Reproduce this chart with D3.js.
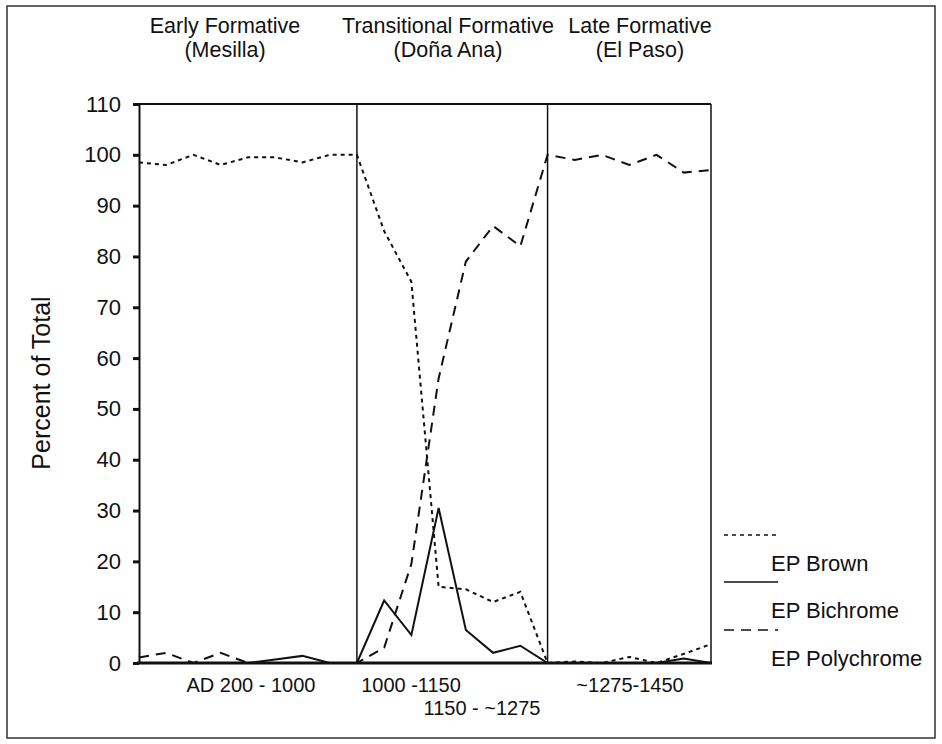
<!DOCTYPE html>
<html>
<head>
<meta charset="utf-8">
<script src="https://cdn.jsdelivr.net/npm/d3@7"></script>
<style>
  body { margin: 0; background: #fff; }
  svg text { font-family: "Liberation Sans", Arial, sans-serif; fill: #111; }
</style>
</head>
<body>
<svg id="chart" width="942" height="744"></svg>
<script>
// ---- data ----
const sampleIndex = [0,1,2,3,4,5,6,7,8,9,10,11,12,13,14,15,16,17,18,19,20,21];
const epBrown      = [98.5, 98, 100, 98, 99.5, 99.5, 98.5, 100, 100, 85, 75, 15, 14.5, 12, 14, 0, 0.3, 0, 1.2, 0, 1.8, 3.7];
const epBichrome   = [0, 0, 0, 0, 0, 0.7, 1.4, 0, 0, 12.3, 5.5, 30.5, 6.5, 2, 3.4, 0, 0, 0, 0, 0, 0.9, 0];
const epPolychrome = [1.1, 2, 0, 2, 0, 0, 0, 0, 0, 3, 19.5, 56, 79, 86, 82, 100, 99, 100, 98, 100, 96.5, 97];
const periodBreaks = [8, 15];
const periodTitles = [["Early Formative", "(Mesilla)"], ["Transitional Formative", "(Doña Ana)"], ["Late Formative", "(El Paso)"]];
const dateLabels = ["AD 200 - 1000", "1000 -1150", "1150 - ~1275", "~1275-1450"];
const yTicks = [0, 10, 20, 30, 40, 50, 60, 70, 80, 90, 100, 110];
const seriesNames = ["EP Brown", "EP Bichrome", "EP Polychrome"];

// ---- layout ----
const svg = d3.select("#chart");
const pLeft = 139, pRight = 711, pTop = 104, pBottom = 663;
const x = d3.scaleLinear().domain([0, 21]).range([pLeft, pRight]);
const y = d3.scaleLinear().domain([0, 110]).range([pBottom, pTop]);
const ink = "#111";

// outer frame
svg.append("rect").attr("x", 7).attr("y", 6).attr("width", 928).attr("height", 732)
  .attr("fill", "none").attr("stroke", "#333").attr("stroke-width", 1.5);

// plot box
svg.append("line").attr("x1", pLeft).attr("x2", pRight).attr("y1", pTop).attr("y2", pTop)
  .attr("stroke", ink).attr("stroke-width", 2);
svg.append("line").attr("x1", pRight).attr("x2", pRight).attr("y1", pTop).attr("y2", pBottom)
  .attr("stroke", ink).attr("stroke-width", 1.5);
periodBreaks.forEach(b => {
  svg.append("line").attr("x1", x(b)).attr("x2", x(b)).attr("y1", pTop).attr("y2", pBottom)
    .attr("stroke", ink).attr("stroke-width", 1.5);
});

// y axis
const yAxis = d3.axisLeft(y).tickValues(yTicks).tickSize(6).tickPadding(12).tickSizeOuter(0);
const gy = svg.append("g").attr("transform", `translate(${pLeft},0)`).call(yAxis);
gy.select(".domain").attr("stroke", ink).attr("stroke-width", 2);
gy.selectAll(".tick line").attr("stroke", ink).attr("stroke-width", 3);
gy.selectAll(".tick text").attr("font-size", 22).attr("fill", ink)
  .style("font-family", "'Liberation Sans', Arial, sans-serif");

// x baseline
svg.append("line").attr("x1", pLeft - 2).attr("x2", pRight + 1).attr("y1", pBottom).attr("y2", pBottom)
  .attr("stroke", ink).attr("stroke-width", 3);

// y title
svg.append("text").attr("transform", "translate(50,383) rotate(-90)")
  .attr("text-anchor", "middle").attr("font-size", 25).text("Percent of Total");

// period titles
const titleX = [225, 448, 640];
periodTitles.forEach((t, i) => {
  svg.append("text").attr("x", titleX[i]).attr("y", 33).attr("text-anchor", "middle")
    .attr("font-size", 21.5).text(t[0]);
  svg.append("text").attr("x", titleX[i]).attr("y", 57).attr("text-anchor", "middle")
    .attr("font-size", 21.5).text(t[1]);
});

// date labels
const dateX = [251, 411, 482, 630];
const dateY = [692, 692, 715, 692];
dateLabels.forEach((t, i) => {
  svg.append("text").attr("x", dateX[i]).attr("y", dateY[i]).attr("text-anchor", "middle")
    .attr("font-size", 20).text(t);
});

// series
const styles = [
  { data: epBrown, dash: "4,4", width: 2 },
  { data: epBichrome, dash: null, width: 2 },
  { data: epPolychrome, dash: "10,7", width: 2 }
];
const line = d3.line().x(d => x(d[0])).y(d => y(d[1]));
styles.forEach(s => {
  svg.append("path").datum(sampleIndex.map((i, k) => [i, s.data[k]]))
    .attr("d", line).attr("fill", "none").attr("stroke", ink)
    .attr("stroke-width", s.width).attr("stroke-dasharray", s.dash)
    .attr("stroke-linejoin", "miter");
});

// legend
const legLineY = [535, 582, 630];
const legTextY = [571, 618, 666];
seriesNames.forEach((n, i) => {
  svg.append("line").attr("x1", 724).attr("x2", 778).attr("y1", legLineY[i]).attr("y2", legLineY[i])
    .attr("stroke", ink).attr("stroke-width", 1.6).attr("stroke-dasharray", styles[i].dash);
  svg.append("text").attr("x", 771).attr("y", legTextY[i]).attr("font-size", 22).text(n);
});
</script>
</body>
</html>
